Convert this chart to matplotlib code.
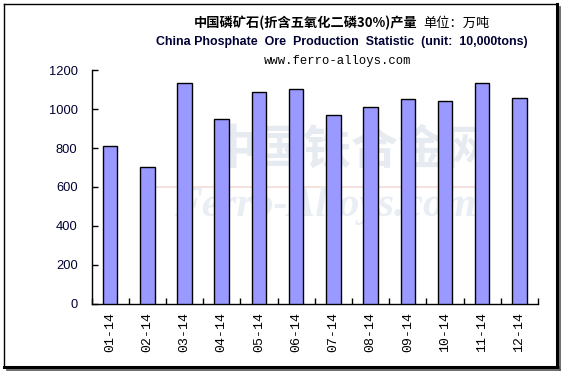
import matplotlib
matplotlib.use("Agg")
import matplotlib.pyplot as plt
from matplotlib.lines import Line2D
import numpy as np

months = ["01-14", "02-14", "03-14", "04-14", "05-14", "06-14",
          "07-14", "08-14", "09-14", "10-14", "11-14", "12-14"]
production = [810, 702, 1133, 949, 1087, 1103, 969, 1010, 1051, 1041, 1133, 1056]
y_ticks = [0, 200, 400, 600, 800, 1000, 1200]

title_cn_bold = "中国磷矿石(折含五氧化二磷30%)产量"
title_cn_unit = "单位：万吨"
title_en = "China Phosphate  Ore  Production  Statistic  (unit:  10,000tons)"
site = "www.ferro-alloys.com"

W, H = 562, 374
fig = plt.figure(figsize=(W / 100, H / 100), dpi=100)
fig.patch.set_facecolor("white")

def fx(px):
    return px / W

def fy(py):
    return 1 - py / H

ax = fig.add_axes([fx(91.5), fy(303.5), fx(538) - fx(91.5), fy(70.3) - fy(303.5)])
ax.set_facecolor("none")
ax.set_zorder(5)

# watermark
fig.text(fx(352), fy(150), "中国铁合金网", fontsize=34, color="#e6ebf2",
         family=["Noto Sans CJK SC"], fontweight="bold", ha="center", va="center", zorder=0)
fig.text(fx(325), fy(206), "Ferro-Alloys.com", fontsize=30, color="#e9edf4",
         family=["Liberation Serif"], style="italic", fontweight="bold",
         ha="center", va="center", zorder=0)
fig.add_artist(Line2D([fx(155), fx(488)], [fy(187), fy(187)], color="#f6dcd8", lw=1.2, zorder=0))

x = np.arange(len(months))
ax.bar(x, production, width=0.39, color="#9999ff", edgecolor="black", linewidth=1.0, zorder=3)

ax.set_xlim(-0.5, len(months) - 0.5)
ax.set_ylim(0, 1200)
ax.set_yticks(y_ticks)
ax.set_yticklabels([str(v) for v in y_ticks], fontsize=9.3, color="#000033",
                   family="Liberation Sans")
ax.set_xticks(x)
ax.set_xticklabels(months, rotation=90, fontsize=9.5, family="Liberation Mono")
ax.tick_params(axis="x", length=0, pad=6)
ax.set_xticks(np.arange(-0.5, len(months)), minor=True)
ax.tick_params(axis="x", which="minor", direction="in", length=4, width=1)
ax.tick_params(axis="y", direction="in", length=4, width=1, pad=10)

for s in ["top", "right"]:
    ax.spines[s].set_visible(False)
for s in ["left", "bottom"]:
    ax.spines[s].set_linewidth(1.0)

# titles
fig.text(fx(418), fy(23), title_cn_bold, fontsize=9.5, fontweight="bold",
         family=["Noto Sans CJK SC"], ha="right", va="center")
fig.text(fx(423), fy(23), title_cn_unit, fontsize=9.5,
         family=["Noto Sans CJK SC"], ha="left", va="center")
fig.text(fx(342), fy(42), title_en, fontsize=8.9, fontweight="bold",
         family="Liberation Sans", color="#000033", ha="center", va="center")
fig.text(fx(338), fy(61), site, fontsize=8.8, family="Liberation Mono",
         ha="center", va="center")

# border with shadow
fig.add_artist(Line2D([fx(3.5), fx(3.5)], [fy(3.5), fy(366)], color="black", lw=1.0))
fig.add_artist(Line2D([fx(3.5), fx(557)], [fy(3.5), fy(3.5)], color="black", lw=1.0))
fig.add_artist(Line2D([fx(557), fx(557)], [fy(3.5), fy(367)], color="black", lw=2.2))
fig.add_artist(Line2D([fx(3.5), fx(558)], [fy(366.5), fy(366.5)], color="black", lw=2.2))
fig.add_artist(Line2D([fx(560), fx(560)], [fy(7), fy(370)], color="#555555", lw=1.2))
fig.add_artist(Line2D([fx(7), fx(560)], [fy(369.5), fy(369.5)], color="#555555", lw=1.2))

fig.savefig("out.png", dpi=100, facecolor="white")
